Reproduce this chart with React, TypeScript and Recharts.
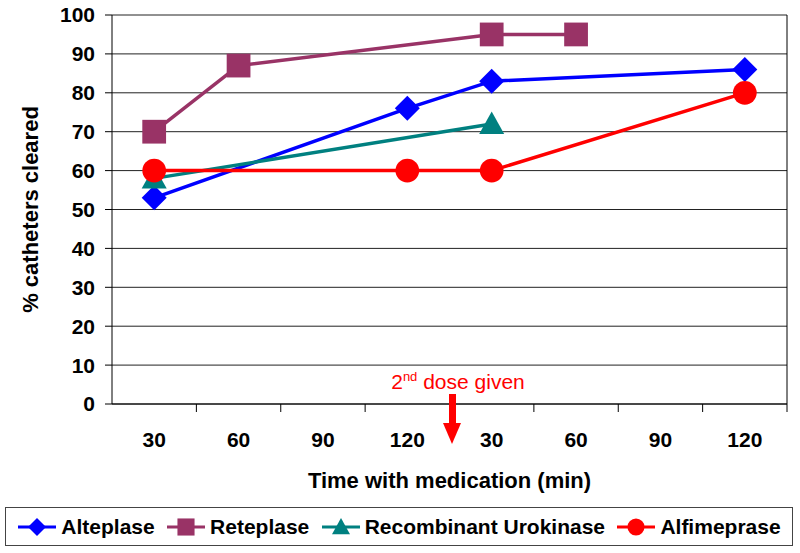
import { LineChart, Line, XAxis, YAxis, CartesianGrid } from "recharts";

const times = ["30", "60", "90", "120", "30", "60", "90", "120"];
const alteplase = [53, null, null, 76, 83, null, null, 86];
const reteplase = [70, 87, null, null, 95, 95, null, null];
const urokinase = [58, null, null, null, 72, null, null, null];
const alfimeprase = [60, null, null, 60, 60, null, null, 80];
const yTicks = [0, 10, 20, 30, 40, 50, 60, 70, 80, 90, 100];

const series = [
  { key: "alteplase", name: "Alteplase", color: "#0000FF", shape: "diamond" },
  { key: "reteplase", name: "Reteplase", color: "#993366", shape: "square" },
  { key: "urokinase", name: "Recombinant Urokinase", color: "#008080", shape: "triangle" },
  { key: "alfimeprase", name: "Alfimeprase", color: "#FF0000", shape: "circle" },
];

const data = times.map((time, i) => ({
  time,
  alteplase: alteplase[i],
  reteplase: reteplase[i],
  urokinase: urokinase[i],
  alfimeprase: alfimeprase[i],
}));

const FONT = "'Liberation Sans', Arial, Helvetica, sans-serif";
const W = 800;
const H = 505;
const margin = { top: 15, right: 12, bottom: 11, left: 20 };
const Y_W = 92;
const bandW = (W - margin.left - Y_W - margin.right - 1) / times.length;

const Marker = ({ cx, cy, shape, color, s }: any) => {
  if (cx == null || cy == null) return null;
  if (shape === "diamond")
    return <polygon points={`${cx},${cy - s} ${cx + s},${cy} ${cx},${cy + s} ${cx - s},${cy}`} fill={color} />;
  if (shape === "square")
    return <rect x={cx - s * 0.95} y={cy - s * 0.95} width={s * 1.9} height={s * 1.9} fill={color} />;
  if (shape === "triangle")
    return <polygon points={`${cx},${cy - s} ${cx + s},${cy + s * 0.8} ${cx - s},${cy + s * 0.8}`} fill={color} />;
  return <circle cx={cx} cy={cy} r={s * 0.95} fill={color} />;
};

const XTick = ({ x, y, payload }: any) => (
  <g>
    <line x1={x + bandW / 2} y1={y - 8} x2={x + bandW / 2} y2={y} stroke="#000" />
    <text x={x} y={y + 35} textAnchor="middle" fontFamily={FONT} fontWeight="bold" fontSize={21} fill="#000">
      {payload.value}
    </text>
  </g>
);

export default function App() {
  return (
    <div style={{ position: "absolute", left: 0, top: 0, width: 800, height: 553, background: "#fff" }}>
      <LineChart width={W} height={H} data={data} margin={margin}>
        <CartesianGrid horizontal vertical={false} stroke="#222" strokeDasharray="" />
        <XAxis
          dataKey="time"
          height={90}
          tickLine={false}
          tickSize={8}
          tickMargin={0}
          padding={{ left: bandW / 2, right: bandW / 2 }}
          axisLine={{ stroke: "#000" }}
          tick={<XTick />}
          interval={0}
          label={{
            value: "Time with medication (min)",
            position: "insideBottom",
            offset: 6,
            style: { fontFamily: FONT, fontWeight: "bold", fontSize: 22, fill: "#000" },
          }}
        />
        <YAxis
          width={Y_W}
          domain={[0, 100]}
          ticks={yTicks}
          interval={0}
          tickSize={7}
          tickMargin={10}
          tickLine={{ stroke: "#000" }}
          axisLine={{ stroke: "#000" }}
          tick={{ fontFamily: FONT, fontWeight: "bold", fontSize: 21, fill: "#000" }}
          label={{
            value: "% catheters cleared",
            angle: -90,
            position: "insideLeft",
            offset: 0,
            dx: 10,
            style: { textAnchor: "middle", fontFamily: FONT, fontWeight: "bold", fontSize: 22, fill: "#000" },
          }}
        />
        <YAxis yAxisId="r" orientation="right" width={1} tick={false} tickLine={false} axisLine={{ stroke: "#000" }} />
        {series.map((s) => (
          <Line
            key={s.key}
            dataKey={s.key}
            name={s.name}
            stroke={s.color}
            strokeWidth={3.5}
            connectNulls
            isAnimationActive={false}
            dot={(p: any) => <Marker key={p.index} cx={p.cx} cy={p.cy} shape={s.shape} color={s.color} s={12.5} />}
            activeDot={false}
          />
        ))}
      </LineChart>
      <svg width={800} height={505} style={{ position: "absolute", left: 0, top: 0, pointerEvents: "none" }}>
        <text x={458} y={389} textAnchor="middle" fontFamily={FONT} fontSize={21} fill="#FF0000">
          2<tspan fontSize={13} dy={-8}>nd</tspan>
          <tspan dy={8}> dose given</tspan>
        </text>
        <rect x={449} y={394} width={7} height={30} fill="#FF0000" />
        <polygon points="443,423 461,423 452,444" fill="#FF0000" />
      </svg>
      <div
        style={{
          position: "absolute",
          left: 5,
          top: 507,
          width: 786,
          height: 37,
          border: "1px solid #444",
          display: "flex",
          alignItems: "center",
          justifyContent: "space-evenly",
          fontFamily: FONT,
          fontWeight: "bold",
          fontSize: 21,
          color: "#000",
        }}
      >
        {series.map((s) => (
          <div key={s.key} style={{ display: "flex", alignItems: "center" }}>
            <svg width={40} height={22} style={{ marginRight: 4 }}>
              <line x1={1} y1={11} x2={39} y2={11} stroke={s.color} strokeWidth={3} />
              <Marker cx={20} cy={11} shape={s.shape} color={s.color} s={9} />
            </svg>
            <span>{s.name}</span>
          </div>
        ))}
      </div>
    </div>
  );
}
